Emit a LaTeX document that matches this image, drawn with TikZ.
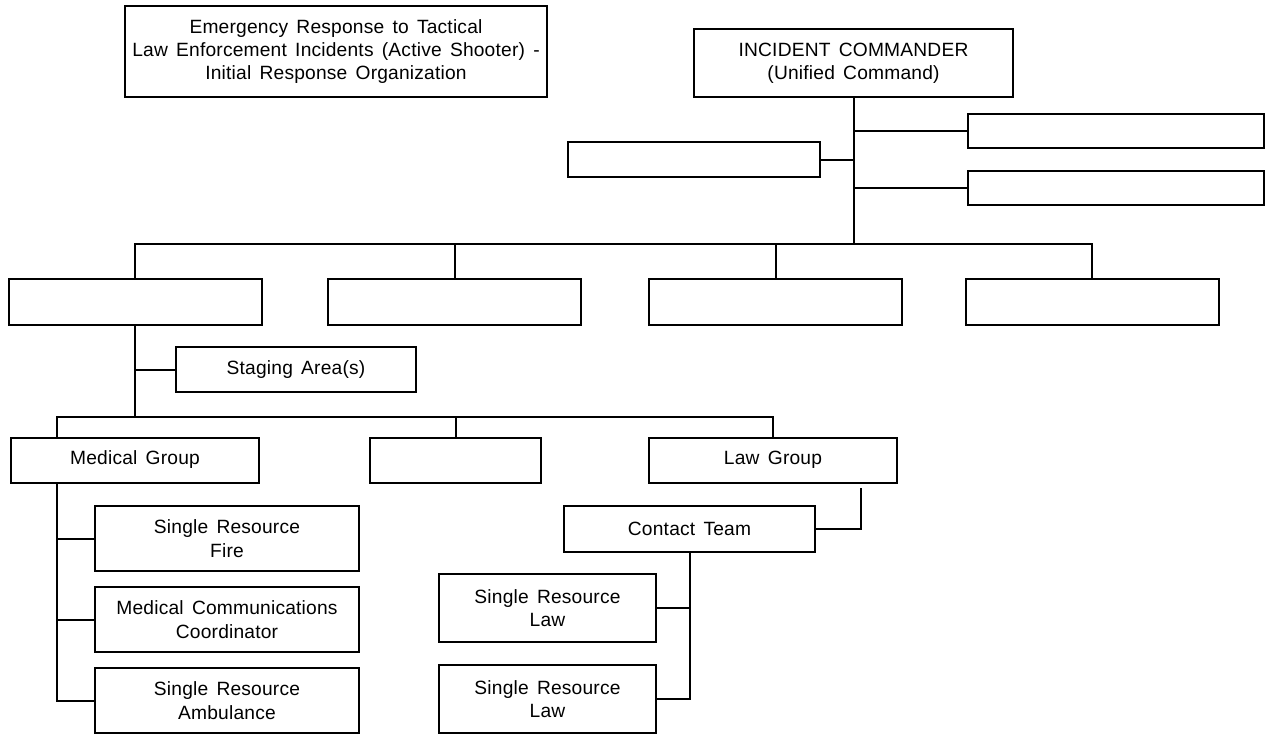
\documentclass[tikz,border=0pt]{standalone}
\usepackage{fontspec}
\setmainfont{Liberation Sans}[LetterSpace=1,WordSpace=1.5]
\usetikzlibrary{calc}

\begin{document}
\begin{tikzpicture}[x=1pt,y=-1pt,
    box/.style={draw, line width=2pt, inner sep=0pt, align=center,
        font=\fontsize{19.2}{23.3}\selectfont},
    side/.style={box, minimum width=296pt, minimum height=34pt},
    section/.style={box, minimum width=253pt, minimum height=46pt},
    group/.style={box, minimum width=248pt, minimum height=45pt},
    unit/.style={box, minimum width=264pt, minimum height=65pt},
    single/.style={box, minimum width=217pt, minimum height=68pt},
    wire/.style={line width=2pt}]
    \useasboundingbox (0,0) rectangle (1268,739);
    \draw (336,51.5) node[box, minimum width=422pt, minimum height=91pt] (title)
        {Emergency Response to Tactical\\Law Enforcement Incidents (Active Shooter) -\\Initial Response Organization};
    \draw (853.5,63) node[box, minimum width=319pt, minimum height=68pt] (ic) {INCIDENT COMMANDER\\(Unified Command)};
    \draw (1116,131) node[side] (r1) {};
    \draw (694,159.5) node[box, minimum width=252pt, minimum height=35pt] (l1) {};
    \draw (1116,188) node[side] (r2) {};
    \draw (135.3,301.5) node[section] (b1) {};
    \draw (454.5,301.5) node[section] (b2) {};
    \draw (775.5,301.5) node[section] (b3) {};
    \draw (1092,301.5) node[section] (b4) {};
    \draw (296,369.5) node[box, minimum width=240pt, minimum height=45pt] (stage) {Staging Area(s)};
    \draw (135,460) node[group] (med) {Medical Group};
    \draw (455.5,460) node[box, minimum width=171pt, minimum height=45pt] (mid) {};
    \draw (773,460) node[group] (law) {Law Group};
    \draw (227,538.5) node[unit] (fire) {Single Resource\\Fire};
    \draw (227,619.5) node[unit] (comm) {Medical Communications\\Coordinator};
    \draw (227,700.5) node[unit] (amb) {Single Resource\\Ambulance};
    \draw (689.5,529) node[box, minimum width=251pt, minimum height=46pt] (contact) {Contact Team};
    \draw (547.5,608) node[single] (srl1) {Single Resource\\Law};
    \draw (547.5,699) node[single] (srl2) {Single Resource\\Law};

    \coordinate (hub) at (853.5,244);
    \coordinate (fork) at (135.3,416.5);
    \coordinate (medin) at (57,437.5);
    \coordinate (medout) at (57,482.5);
    \coordinate (lawout) at (861,488);

    \draw[wire] (ic.south) -- (hub);
    \draw[wire] (ic.south |- r1.west) -- (r1.west);
    \draw[wire] (ic.south |- l1.east) -- (l1.east);
    \draw[wire] (ic.south |- r2.west) -- (r2.west);
    \draw[wire] (b1.north) |- (hub) -| (b4.north);
    \draw[wire] (b2.north) -- (b2.north |- hub);
    \draw[wire] (b3.north) -- (b3.north |- hub);
    \draw[wire] (b1.south) -- (fork);
    \draw[wire] (b1.south |- stage.west) -- (stage.west);
    \draw[wire] (medin) |- (fork) -| (law.north);
    \draw[wire] (mid.north) -- (mid.north |- fork);
    \draw[wire] (medout) |- (amb.west);
    \draw[wire] (medout |- fire.west) -- (fire.west);
    \draw[wire] (medout |- comm.west) -- (comm.west);
    \draw[wire] (lawout) |- (contact.east);
    \draw[wire] (contact.south) |- (srl2.east);
    \draw[wire] (contact.south |- srl1.east) -- (srl1.east);
\end{tikzpicture}
\end{document}
